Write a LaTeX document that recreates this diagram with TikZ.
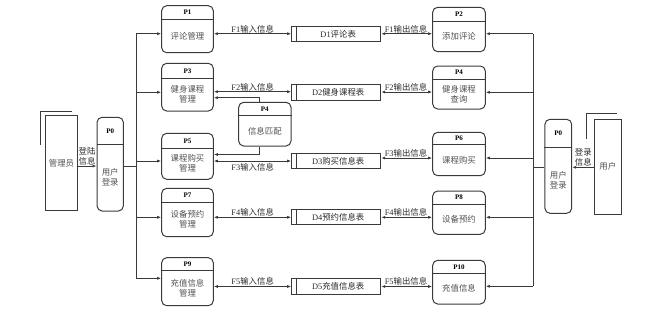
\documentclass[tikz,border=0pt]{standalone}
\usepackage{fontspec}
\setmainfont{Liberation Serif}
\newfontfamily\cjk{Noto Sans CJK SC}
\usetikzlibrary{arrows.meta}
\definecolor{linec}{HTML}{3A3A3A}
\definecolor{textc}{HTML}{505050}
\definecolor{labelc}{HTML}{2A2A2A}
\newcommand\bodyfont{\cjk\fontsize{8.4}{10}\selectfont}
\newcommand\titlefont{\bfseries\fontsize{7}{8}\selectfont}
\newcommand\lat[1]{{\rmfamily #1}}
\tikzset{
  line/.style={draw=linec, line width=1pt},
  proc/.style={draw=linec, line width=1pt, rounded corners=5pt, inner sep=0pt},
  ptitle/.style={font=\titlefont, text=black, inner sep=0pt},
  ptext/.style={font=\bodyfont, text=textc, align=center, inner sep=0pt},
  storebox/.style={draw=linec, line width=1pt, inner sep=0pt},
  entbox/.style={draw=linec, line width=1pt, inner sep=0pt, font=\bodyfont, text=textc},
  arr/.style={-{Latex[length=4pt,width=3pt]}, draw=linec, line width=1pt},
  barr/.style={{Latex[length=4pt,width=3pt]}-{Latex[length=4pt,width=3pt]}, draw=linec, line width=1pt},
  flabel/.style={font=\bodyfont, text=labelc, inner sep=0pt, align=center}
}
% name, cx, width, top, divider, bottom, title, text
\newcommand\procbox[8]{%
  \node[proc, minimum width=#3pt, minimum height={#6pt-#4pt}] (#1) at (#2,{(#4+#6)/2}) {};
  \draw[line] (#1.west |- 0,#5) -- (#1.east |- 0,#5);
  \node[ptitle] (#1t) at (#2,{(#4+#5)/2}) {#7};
  \node[ptext] (#1b) at (#2,{(#5+#6)/2}) {#8};
}
% name, left, right, top, bottom, text
\newcommand\storeitem[6]{%
  \node[storebox, minimum width={#3pt-#2pt}, minimum height={#5pt-#4pt}] (#1) at ({(#2+#3)/2},{(#4+#5)/2}) {};
  \draw[line] ({#2+5},#4) -- ({#2+5},#5);
  \node[ptext, text=labelc] (#1t) at ({(#2+#3)/2+2},{(#4+#5)/2}) {#6};
}
\begin{document}
\begin{tikzpicture}[x=1pt,y=-1pt]
\useasboundingbox (0,0) rectangle (657,314);
% processes, left column
\procbox{P1}{187.5}{51.6}{5.7}{19.3}{52.7}{P1}{评论管理}
\procbox{P3}{187.5}{51.6}{63.3}{78.3}{111}{P3}{健身课程\\管理}
\procbox{P5}{187.5}{51.6}{133.3}{148.3}{179.3}{P5}{课程购买\\管理}
\procbox{P7}{187.5}{51.6}{188.3}{202.7}{236.7}{P7}{设备预约\\管理}
\procbox{P9}{187.5}{51.6}{257.7}{270.7}{305.7}{P9}{充值信息\\管理}
% processes, right column
\procbox{P2}{459}{52.6}{7.3}{21}{51.7}{P2}{添加评论}
\procbox{P4a}{459}{52.6}{66}{79.3}{109}{P4}{健身课程\\查询}
\procbox{P6}{459}{52.6}{132.3}{144.7}{175.7}{P6}{课程购买}
\procbox{P8}{459}{52.6}{191}{204}{234.3}{P8}{设备预约}
\procbox{P10}{459}{52.6}{260.3}{273.3}{304}{P10}{充值信息}
% middle
\procbox{P4m}{264.85}{52.3}{102.3}{115.7}{146}{P4}{信息匹配}
% login processes
\procbox{P0L}{110.2}{26.3}{117.3}{144.3}{211}{P0}{用户\\登录}
\procbox{P0R}{558.3}{26.7}{119.3}{147.3}{213.3}{P0}{用户\\登录}
% data stores
\storeitem{D1}{291.7}{380.7}{26.7}{41.3}{\lat{D1}评论表}
\storeitem{D2}{291.7}{380.7}{84}{100}{\lat{D2}健身课程表}
\storeitem{D3}{291.7}{380.7}{153.7}{168.3}{\lat{D3}购买信息表}
\storeitem{D4}{291.7}{380.7}{209.3}{224.7}{\lat{D4}预约信息表}
\storeitem{D5}{291.7}{380.7}{278.7}{294}{\lat{D5}充值信息表}
% external entities
\node[entbox, minimum width=31.6pt, minimum height=94.3pt] (admin) at (61.5,162.85) {管理员};
\draw[line] (40.7,145) -- (40.7,111) -- (72,111);
\node[entbox, minimum width=27pt, minimum height=95pt] (user) at (607.8,166.5) {用户};
\draw[line] (586.3,139.3) -- (586.3,113.7) -- (616.7,113.7);
% login flows
\draw[arr] (admin.east |- 0,166) -- (P0L.west |- 0,166);
\node[flabel] (lab0) at (87,156.3) {登陆\\信息};
\draw[arr] (user.west |- 0,167.3) -- (P0R.east |- 0,167.3);
\node[flabel] (lab0r) at (583.3,157.2) {登录\\信息};
% left trunk
\coordinate (LJ) at (136,166);
\coordinate (L1) at (136,33.7);
\coordinate (L3) at (136,92.3);
\coordinate (L5) at (136,161);
\coordinate (L7) at (136,217.3);
\coordinate (L9) at (136,278.3);
\draw[line] (P0L.east |- LJ) -- (LJ);
\draw[line] (L1) -- (L9);
\draw[arr] (L1) -- (P1.west |- L1);
\draw[arr] (L3) -- (P3.west |- L3);
\draw[arr] (L5) -- (P5.west |- L5);
\draw[arr] (L7) -- (P7.west |- L7);
\draw[arr] (L9) -- (P9.west |- L9);
% right trunk
\coordinate (RJ) at (533.3,167.3);
\coordinate (R2) at (533.3,33.7);
\coordinate (R4) at (533.3,92.3);
\coordinate (R6) at (533.3,158);
\coordinate (R8) at (533.3,217.3);
\coordinate (R10) at (533.3,286.3);
\draw[line] (P0R.west |- RJ) -- (RJ);
\draw[line] (R2) -- (R10);
\draw[arr] (R2) -- (P2.east |- R2);
\draw[arr] (R4) -- (P4a.east |- R4);
\draw[arr] (R6) -- (P6.east |- R6);
\draw[arr] (R8) -- (P8.east |- R8);
\draw[arr] (R10) -- (P10.east |- R10);
% data flows
\draw[barr] (P1.east |- 0,33.7) -- (D1.west |- 0,33.7);
\node[flabel, anchor=south] (f1i) at (252.7,33) {\lat{F1}输入信息};
\draw[barr] (D1.east |- 0,33.7) -- (P2.west |- 0,33.7);
\node[flabel, anchor=south] (f1o) at (406,33) {\lat{F1}输出信息};
\draw[barr] (P3.east |- 0,91.7) -- (D2.west |- 0,91.7);
\node[flabel, anchor=south] (f2i) at (252.7,91) {\lat{F2}输入信息};
\draw[barr] (D2.east |- 0,92) -- (P4a.west |- 0,92);
\node[flabel, anchor=south] (f2o) at (406,91.3) {\lat{F2}输出信息};
\draw[barr] (P5.east |- 0,161) -- (D3.west |- 0,161);
\node[flabel, anchor=north] (f3i) at (252.7,163) {\lat{F3}输入信息};
\draw[barr] (D3.east |- 0,158) -- (P6.west |- 0,158);
\node[flabel, anchor=south] (f3o) at (406,157.3) {\lat{F3}输出信息};
\draw[barr] (P7.east |- 0,217.3) -- (D4.west |- 0,217.3);
\node[flabel, anchor=south] (f4i) at (252.7,216.6) {\lat{F4}输入信息};
\draw[barr] (D4.east |- 0,217.3) -- (P8.west |- 0,217.3);
\node[flabel, anchor=south] (f4o) at (406,216.6) {\lat{F4}输出信息};
\draw[barr] (P9.east |- 0,286.5) -- (D5.west |- 0,286.5);
\node[flabel, anchor=south] (f5i) at (252.7,285.8) {\lat{F5}输入信息};
\draw[barr] (D5.east |- 0,286.5) -- (P10.west |- 0,286.5);
\node[flabel, anchor=south] (f5o) at (406,285.8) {\lat{F5}输出信息};
% P4 matching links
\draw[arr] (P4m.north -| 259.3,0) |- (P3.east |- 0,97.7);
\draw[arr] (P4m.south -| 259.3,0) |- (P5.east |- 0,154.5);
\end{tikzpicture}
\end{document}
